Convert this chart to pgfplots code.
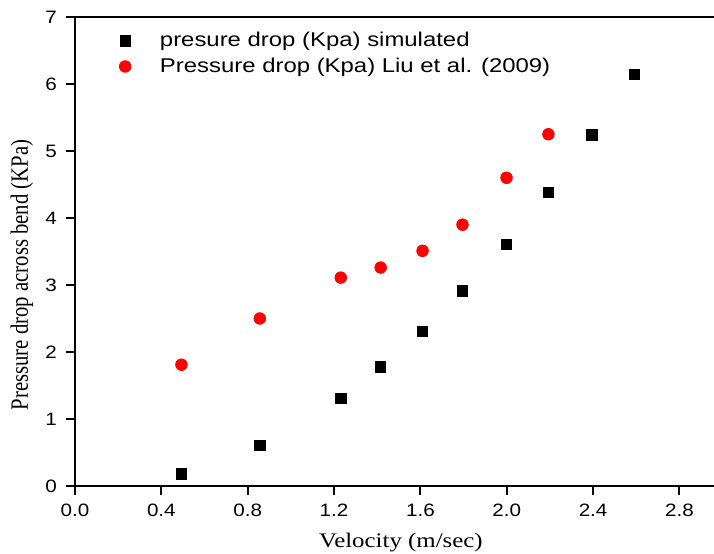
\documentclass[border=0pt]{standalone}
\usepackage{pgfplots}
\pgfplotsset{compat=1.18}
\usepackage{graphicx}
\usepackage{fontspec}
\setmainfont{Liberation Serif}
\newfontfamily\arial{Liberation Sans}

\pgfplotstableread{
x y
0.493 0.18
0.856 0.61
1.231 1.31
1.416 1.78
1.610 2.31
1.795 2.91
1.999 3.61
2.193 4.38
2.394 5.24
2.590 6.14
}\simtable

\pgfplotstableread{
x y
0.493 1.81
0.856 2.50
1.231 3.11
1.416 3.26
1.610 3.51
1.795 3.90
1.999 4.60
2.193 5.25
}\liutable

\begin{document}
\begin{tikzpicture}
\begin{axis}[
  scale only axis,
  width=319.5bp, height=234.5bp,
  xmin=0, xmax=2.96, ymin=0, ymax=7,
  axis lines*=left,
  clip=false,
  /pgf/number format/assume math mode=true,
  axis line style={line width=1.1bp, black},
  every tick/.style={black, line width=1bp},
  tick align=outside,
  major tick length=4.5bp,
  xtick={0,0.4,0.8,1.2,1.6,2.0,2.4,2.8},
  ytick={0,1,2,3,4,5,6,7},
  minor tick num=0,
  xticklabel={\scalebox{1.15}[1]{\arial\fontsize{9}{10}\selectfont\pgfmathprintnumber[fixed,fixed zerofill,precision=1,assume math mode=true]{\tick}}},
  yticklabel={\scalebox{1.15}[1]{\arial\fontsize{9}{10}\selectfont\pgfmathprintnumber[fixed,precision=0,assume math mode=true]{\tick}}},
  xticklabel style={yshift=-1bp},
  yticklabel style={xshift=-1bp},
  xlabel={\scalebox{1.2}[1]{\fontsize{10.4}{12}\selectfont Velocity (m/sec)}},
  ylabel={\scalebox{1}[1.2]{\fontsize{10.4}{12}\selectfont Pressure drop across bend (KPa)}},
  xlabel style={at={(axis description cs:0.51,-0.1215)}, anchor=center},
  ylabel style={at={(axis description cs:-0.083,0.45)}, anchor=center, rotate=0},
  legend cell align=left,
  legend image code/.code={\draw[#1] plot coordinates {(0bp,0bp)};},
  legend style={draw=none, fill=none, at={(rel axis cs:0,1)}, anchor=north west,
    xshift=19bp, yshift=-5.5bp, row sep=4bp,
    nodes={inner sep=0pt},
    /tikz/every odd column/.style={column sep=14.5bp}},
]
\addplot[only marks, mark=square*, mark size=2.6bp, draw=black, fill=black] table[x=x,y=y] {\simtable};
\addlegendentry{\scalebox{1.2}[1]{\arial\fontsize{10}{12}\selectfont presure drop (Kpa) simulated}}
\addplot[only marks, mark=*, mark size=2.9bp, draw=red, fill=red] table[x=x,y=y] {\liutable};
\addlegendentry{\scalebox{1.2}[1]{\arial\fontsize{10}{12}\selectfont Pressure drop (Kpa) Liu et al. (2009)}}
\draw[line width=1.1bp, black] (rel axis cs:0,1) -- (rel axis cs:1,1);
\end{axis}
\pgfresetboundingbox
\path[use as bounding box] ([xshift=-37.5bp,yshift=-34bp]current axis.south west) rectangle ([yshift=8.5bp]current axis.north east);
\end{tikzpicture}
\end{document}
